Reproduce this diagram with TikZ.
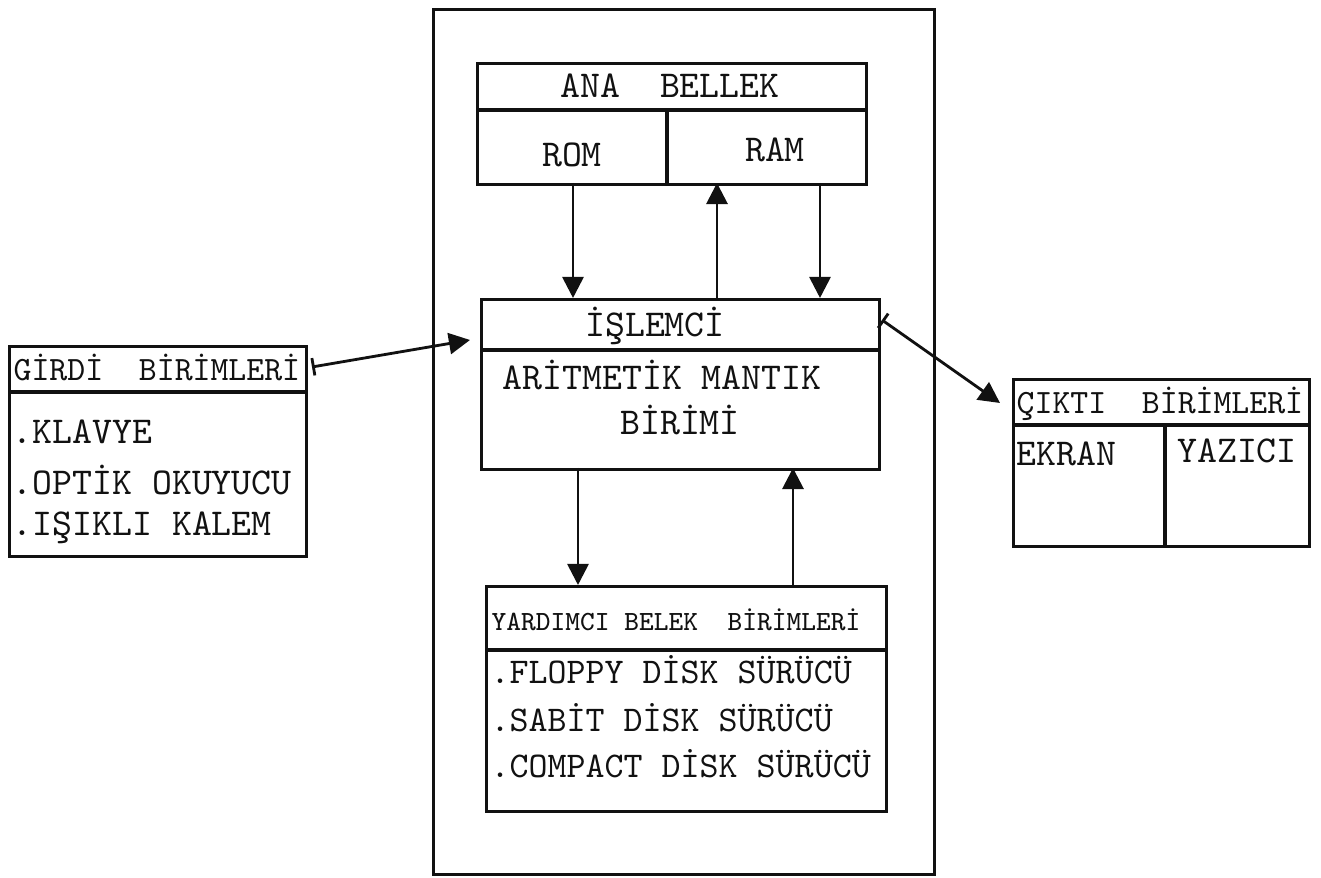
\documentclass[tikz,border=0pt]{standalone}
\usepackage{fontspec}
\usepackage{tikz}
\usetikzlibrary{positioning,arrows.meta}
\definecolor{TypeInk}{HTML}{111111}

\begin{document}
\begin{tikzpicture}[x=1cm,y=1cm,
  kutu/.style={draw=TypeInk, line width=0.9pt, rectangle, inner sep=0pt, anchor=north west},
  yazi/.style={font=\ttfamily\fontsize{10.8}{12}\selectfont, text=TypeInk, inner sep=0pt},
  baslik/.style={font=\ttfamily\fontsize{9.7}{11}\selectfont, text=TypeInk, inner sep=0pt},
  cizgi/.style={draw=TypeInk, line width=0.9pt},
  ok/.style={draw=TypeInk, line width=0.8pt, -{Triangle[length=6pt,width=6pt]}},
  cubukok/.style={draw=TypeInk, line width=0.8pt, {Bar[width=5pt]}-{Triangle[length=6pt,width=6pt]}}]
  \useasboundingbox (0,0) rectangle (13.21,8.78);

  %% Outer frame (system unit)
  \node[kutu, minimum width=5.01cm, minimum height=8.65cm] (sistem) at (4.32,8.70) {};

  %% Main memory
  \node[kutu, minimum width=3.89cm, minimum height=1.21cm] (anabellek) at (4.76,8.16) {};
  \draw[cizgi] (anabellek.west |- 0,7.68) -- (anabellek.east |- 0,7.68);
  \draw[cizgi] (6.67,7.68) -- (6.67,6.95);
  \node[yazi] (anabellekyazi) at (6.70,7.92) {ANA\ \ BELLEK};
  \node[yazi] (romyazi) at (5.72,7.23) {ROM};
  \node[yazi] (ramyazi) at (7.75,7.28) {RAM};

  %% Processor
  \node[kutu, minimum width=3.98cm, minimum height=1.70cm] (islemci) at (4.80,5.80) {};
  \draw[cizgi] (islemci.west |- 0,5.28) -- (islemci.east |- 0,5.28);
  \node[yazi] (islemciyazi) at (6.55,5.52) {İŞLEMCİ};
  \node[yazi] (amyazi) at (6.62,5.03) {ARİTMETİK MANTIK};
  \node[yazi] (birimiyazi) at (6.80,4.58) {BİRİMİ};

  %% Auxiliary memory
  \node[kutu, minimum width=4.00cm, minimum height=2.25cm] (yardimci) at (4.85,2.93) {};
  \draw[cizgi] (yardimci.west |- 0,2.28) -- (yardimci.east |- 0,2.28);
  \node[baslik, font=\ttfamily\fontsize{7.9}{9}\selectfont] (yardimciyazi) at (6.76,2.58) {YARDIMCI BELEK\ \ BİRİMLERİ};
  \node[yazi, anchor=west, font=\ttfamily\fontsize{10.3}{11}\selectfont] (floppy) at (4.90,2.08) {.FLOPPY DİSK SÜRÜCÜ};
  \node[yazi, anchor=west, font=\ttfamily\fontsize{10.3}{11}\selectfont] (sabit) at (4.90,1.60) {.SABİT DİSK SÜRÜCÜ};
  \node[yazi, anchor=west, font=\ttfamily\fontsize{10.3}{11}\selectfont] (compact) at (4.90,1.14) {.COMPACT DİSK SÜRÜCÜ};

  %% Input units
  \node[kutu, minimum width=2.97cm, minimum height=2.10cm] (girdi) at (0.08,5.33) {};
  \draw[cizgi] (girdi.west |- 0,4.86) -- (girdi.east |- 0,4.86);
  \node[baslik, anchor=west] (girdiyazi) at (0.13,5.10) {GİRDİ\ \ BİRİMLERİ};
  \node[yazi, anchor=west] (klavye) at (0.12,4.46) {.KLAVYE};
  \node[yazi, anchor=west] (optik) at (0.12,3.98) {.OPTİK OKUYUCU};
  \node[yazi, anchor=west] (kalem) at (0.12,3.50) {.IŞIKLI KALEM};

  %% Output units
  \node[kutu, minimum width=2.96cm, minimum height=1.67cm] (cikti) at (10.12,5.00) {};
  \draw[cizgi] (cikti.west |- 0,4.53) -- (cikti.east |- 0,4.53);
  \draw[cizgi] (11.65,4.53) -- (cikti.south -| 11.65,0);
  \node[baslik, anchor=west] (ciktiyazi) at (10.16,4.74) {ÇIKTI\ \ BİRİMLERİ};
  \node[yazi, anchor=west] (ekranyazi) at (10.16,4.24) {EKRAN};
  \node[yazi] (yaziciyazi) at (12.37,4.27) {YAZICI};

  %% Memory <-> processor
  \coordinate (romalt) at (5.73,6.95);
  \coordinate (ramalt1) at (7.17,6.95);
  \coordinate (ramalt2) at (8.20,6.95);
  \draw[ok] (romalt) -- (romalt |- islemci.north);
  \draw[ok] (ramalt1 |- islemci.north) -- (ramalt1);
  \draw[ok] (ramalt2) -- (ramalt2 |- islemci.north);

  %% Processor <-> auxiliary memory
  \coordinate (asagi) at (5.78,4.10);
  \coordinate (yukari) at (7.93,4.10);
  \draw[ok] (asagi) -- (asagi |- yardimci.north);
  \draw[ok] (yukari |- yardimci.north) -- (yukari);

  %% Input and output
  \coordinate (girdiuc) at (3.12,5.11);
  \coordinate (islemcisol) at (4.70,5.38);
  \coordinate (islemcisag) at (8.82,5.58);
  \coordinate (ciktiuc) at (10.00,4.75);
  \draw[cubukok] (girdiuc) -- (islemcisol);
  \draw[cubukok] (islemcisag) -- (ciktiuc);
\end{tikzpicture}
\end{document}
